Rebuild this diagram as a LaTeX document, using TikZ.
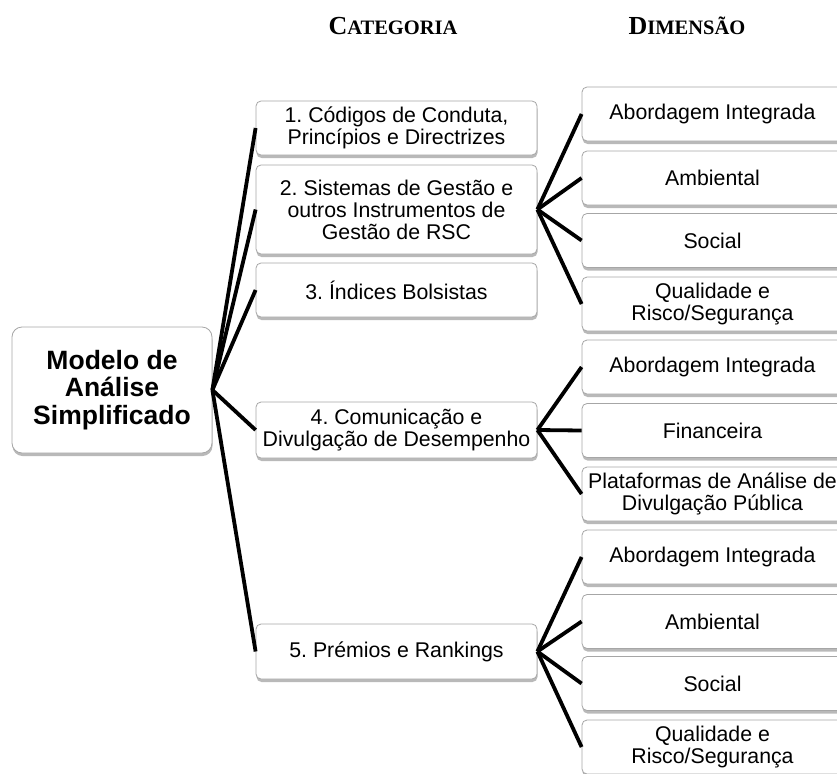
\documentclass[tikz,border=0pt]{standalone}
\usepackage{fontspec}
\setmainfont{Liberation Sans}
\newfontfamily\hdrfont{Liberation Serif}
\usetikzlibrary{shadows}
\frenchspacing
\tikzset{
  box/.style={draw=gray!70, line width=0.8pt, fill=white, rounded corners=5pt,
    drop shadow={shadow xshift=0.5pt, shadow yshift=-3pt, fill=black!50, opacity=0.55},
    inner sep=0pt, align=center, font=\fontsize{21.3}{22}\selectfont},
  cat/.style={box, minimum width=281pt},
  dim/.style={box, minimum width=261pt, minimum height=54pt},
  root/.style={box, rounded corners=10pt, minimum width=200pt, minimum height=126pt,
    font=\bfseries\fontsize{26.5}{27.5}\selectfont},
  link/.style={line width=3.8pt, black},
  hdr/.style={font=\hdrfont\bfseries, anchor=base, inner sep=0pt}
}
\newcommand{\bigc}[1]{{\fontsize{26}{26}\selectfont #1}}
\newcommand{\smc}[1]{{\fontsize{20.5}{20.5}\selectfont #1}}
\begin{document}
\begin{tikzpicture}[x=1pt,y=-1pt]
\useasboundingbox (0,0) rectangle (837,773);
\clip (0,0) rectangle (837,773);
% headers
\node[hdr] (h1) at (393,34.3) {\bigc{C}\smc{ATEGORIA}};
\node[hdr] (h2) at (687,34.3) {\bigc{D}\smc{IMENSÃO}};
% root
\node[root] (m) at (112,390) {Modelo de\\Análise\\Simplificado};
% categories
\node[cat, minimum height=54pt] (c1) at (396.5,128) {1. Códigos de Conduta,\\Princípios e Directrizes};
\node[cat, minimum height=89pt] (c2) at (396.5,209.5) {2. Sistemas de Gestão e\\outros Instrumentos de\\Gestão de RSC};
\node[cat, minimum height=54pt] (c3) at (396.5,290) {3. Índices Bolsistas};
\node[cat, minimum height=56pt] (c4) at (396.5,430) {4. Comunicação e\\Divulgação de Desempenho};
\node[cat, minimum height=55pt] (c5) at (396.5,651.5) {5. Prémios e Rankings};
% dimensions
\node[dim] (d1) at (712.5,114) {Abordagem Integrada};
\node[dim] (d2) at (712.5,178) {Ambiental};
\node[dim] (d3) at (712.5,240.5) {Social};
\node[dim] (d4) at (712.5,304) {Qualidade e\\Risco/Segurança};
\node[dim] (d5) at (712.5,367) {Abordagem Integrada};
\node[dim] (d6) at (712.5,430.5) {Financeira};
\node[dim] (d7) at (712.5,494) {Plataformas de Análise de\\Divulgação Pública};
\node[dim] (d8) at (712.5,557) {Abordagem Integrada};
\node[dim] (d9) at (712.5,621.5) {Ambiental};
\node[dim] (d10) at (712.5,683.5) {Social};
\node[dim] (d11) at (712.5,747) {Qualidade e\\Risco/Segurança};
% connectors
\foreach \c in {c1,c2,c3,c4,c5} \draw[link] (m.east) -- (\c.west);
\foreach \d in {d1,d2,d3,d4} \draw[link] (c2.east) -- (\d.west);
\foreach \d in {d5,d6,d7} \draw[link] (c4.east) -- (\d.west);
\foreach \d in {d8,d9,d10,d11} \draw[link] (c5.east) -- (\d.west);
\end{tikzpicture}
\end{document}
